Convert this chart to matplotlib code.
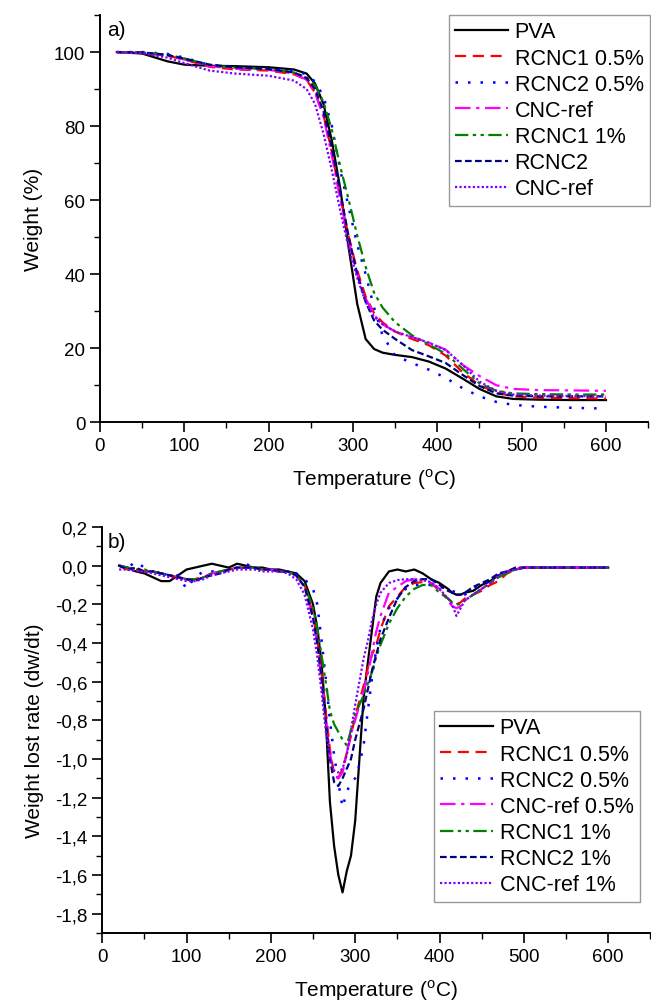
import numpy as np
import matplotlib
matplotlib.use("Agg")
from matplotlib import pyplot as plt
from matplotlib.ticker import MultipleLocator, FuncFormatter

plt.rcParams['font.family'] = ['Liberation Sans', 'DejaVu Sans']

# ---- panel a) TGA weight curves ----
temp_a = [20, 50, 80, 100, 130, 160, 200, 230, 245, 255, 265, 275, 285, 295, 305,
          315, 325, 335, 350, 370, 390, 410, 430, 450, 470, 490, 520, 560, 600]

w_pva = [100, 99.6, 97.5, 96.6, 96.3, 96.2, 95.9, 95.3, 94.2, 91.5, 86, 76, 63, 47, 32,
         22.5, 19.8, 18.8, 18.2, 17.6, 16.4, 14.5, 11.8, 9.0, 7.0, 6.3, 6.1, 6.0, 6.0]
w_rcnc1_05 = [100, 99.8, 99, 98, 96, 95.3, 95, 94, 92.5, 89, 83, 73, 61, 50, 41,
              34, 29.5, 27, 24.5, 22.5, 20.8, 18, 13.5, 10, 8, 7, 6.6, 6.5, 6.4]
w_rcnc2_05 = [100, 100, 99.5, 98.5, 96.5, 96, 95.5, 95, 94, 92, 88, 80, 68, 58, 48,
              40, 31, 23.5, 18, 16, 14.2, 12, 9.2, 7, 5.5, 4.7, 4.2, 3.9, 3.7]
w_cnc_05 = [100, 99.8, 99, 98, 96.2, 95.5, 95.2, 94.2, 92.5, 89, 82.5, 72, 60, 49, 40,
            33.5, 29, 26.5, 24.5, 23, 21.5, 19.6, 15.5, 12.5, 10, 9, 8.7, 8.6, 8.5]
w_rcnc1_1 = [100, 99.9, 99.3, 98.3, 96.5, 95.8, 95.4, 94.5, 93.2, 91, 86.5, 79, 69, 60, 50.5,
             42, 35, 31, 27, 23.5, 21, 18.5, 14.5, 10.5, 8.5, 7.8, 7.6, 7.5, 7.5]
w_rcnc2_1 = [100, 99.9, 99.2, 98.2, 96.6, 95.9, 95.4, 94.5, 93, 90, 84, 74, 62, 50, 40,
             32.5, 27.5, 25, 22.5, 19.5, 17.8, 16, 12.8, 9.8, 7.8, 7.2, 7, 7, 7]
w_cnc_1 = [100, 99.7, 98.5, 97, 95, 94.2, 93.6, 92.3, 90, 86, 78, 68, 57, 47, 39,
           32.5, 28.5, 26.5, 24.5, 23, 21.5, 19.5, 15.5, 11, 8.5, 7.5, 7.2, 7.1, 7]

labels_a = ["PVA", "RCNC1 0.5%", "RCNC2 0.5%", "CNC-ref", "RCNC1 1%", "RCNC2", "CNC-ref"]

# ---- panel b) DTG curves ----
temp_b = [20, 30, 40, 50, 60, 70, 80, 90, 100, 110, 120, 130, 140, 150, 160, 170, 180, 190,
          200, 210, 220, 230, 240, 250, 255, 260, 265, 270, 275, 280, 285, 290, 295, 300,
          305, 310, 315, 320, 325, 330, 340, 350, 360, 370, 380, 390, 400, 410, 415, 420,
          425, 430, 440, 450, 460, 470, 480, 490, 500, 520, 540, 560, 580, 600]

d_pva = [0.0, -0.01, -0.03, -0.04, -0.06, -0.08, -0.08, -0.05, -0.02, -0.01, 0.0, 0.01, 0.0, -0.01,
         0.01, 0.0, -0.01, -0.01, -0.02, -0.02, -0.03, -0.04, -0.08, -0.2, -0.32, -0.5, -0.78,
         -1.22, -1.45, -1.6, -1.69, -1.58, -1.5, -1.32, -1.0, -0.68, -0.5, -0.33, -0.16, -0.09,
         -0.03, -0.02, -0.03, -0.02, -0.04, -0.07, -0.09, -0.12, -0.14, -0.15, -0.15, -0.14,
         -0.13, -0.1, -0.08, -0.05, -0.03, -0.02, -0.01, -0.01, -0.01, -0.01, -0.01, -0.01]
d_rcnc1_05 = [0.0, -0.02, -0.02, -0.03, -0.03, -0.04, -0.05, -0.06, -0.07, -0.07, -0.06, -0.04,
              -0.03, -0.02, -0.01, -0.01, -0.01, -0.02, -0.02, -0.03, -0.03, -0.05, -0.1, -0.25,
              -0.38, -0.55, -0.75, -0.95, -1.08, -1.1, -1.05, -0.97, -0.88, -0.78, -0.7, -0.62,
              -0.53, -0.46, -0.41, -0.33, -0.21, -0.16, -0.11, -0.09, -0.085, -0.09, -0.13,
              -0.17, -0.19, -0.2, -0.19, -0.17, -0.15, -0.13, -0.1, -0.08, -0.04, -0.02, -0.01,
              -0.01, -0.01, -0.01, -0.01, -0.01]
d_rcnc2_05 = [0.0, -0.01, 0.02, -0.01, -0.03, -0.04, -0.05, -0.05, -0.12, -0.06, -0.03, -0.03,
              -0.03, -0.03, -0.01, 0.01, -0.01, -0.02, -0.02, -0.03, -0.03, -0.04, -0.07, -0.12,
              -0.2, -0.38, -0.58, -0.8, -0.98, -1.12, -1.25, -1.17, -1.12, -1.1, -1.03, -0.93,
              -0.75, -0.58, -0.43, -0.32, -0.22, -0.17, -0.12, -0.1, -0.1, -0.1, -0.11, -0.12,
              -0.13, -0.14, -0.15, -0.15, -0.12, -0.1, -0.08, -0.05, -0.03, -0.02, -0.01,
              -0.01, -0.01, -0.01, -0.01, -0.01]
d_cnc_05 = [0.0, -0.01, -0.02, -0.03, -0.03, -0.04, -0.05, -0.06, -0.07, -0.08, -0.06, -0.04,
            -0.03, -0.02, -0.01, -0.01, -0.01, -0.02, -0.02, -0.03, -0.03, -0.05, -0.11, -0.27,
            -0.4, -0.58, -0.78, -0.97, -1.08, -1.1, -1.07, -0.97, -0.87, -0.8, -0.72, -0.65,
            -0.56, -0.45, -0.34, -0.26, -0.14, -0.11, -0.08, -0.07, -0.07, -0.09, -0.12, -0.18,
            -0.21, -0.22, -0.21, -0.18, -0.15, -0.12, -0.09, -0.06, -0.03, -0.02, -0.01,
            -0.01, -0.01, -0.01, -0.01, -0.01]
d_rcnc1_1 = [0.0, -0.01, -0.02, -0.02, -0.03, -0.04, -0.05, -0.06, -0.07, -0.07, -0.06, -0.04,
             -0.03, -0.02, -0.01, -0.01, -0.01, -0.02, -0.02, -0.03, -0.03, -0.05, -0.1, -0.22,
             -0.32, -0.46, -0.6, -0.75, -0.82, -0.86, -0.9, -0.93, -0.85, -0.77, -0.72, -0.67,
             -0.61, -0.55, -0.47, -0.41, -0.3, -0.22, -0.16, -0.12, -0.1, -0.1, -0.14, -0.17,
             -0.19, -0.2, -0.2, -0.18, -0.15, -0.12, -0.09, -0.06, -0.04, -0.02, -0.01,
             -0.01, -0.01, -0.01, -0.01, -0.01]
d_rcnc2_1 = [0.0, -0.02, -0.01, -0.03, -0.03, -0.04, -0.05, -0.06, -0.07, -0.08, -0.06, -0.05,
             -0.04, -0.02, -0.01, -0.01, -0.01, -0.02, -0.02, -0.03, -0.03, -0.05, -0.11, -0.27,
             -0.4, -0.58, -0.8, -1.0, -1.12, -1.14, -1.1, -1.05, -1.0, -0.9, -0.82, -0.74,
             -0.64, -0.54, -0.46, -0.38, -0.27, -0.17, -0.11, -0.08, -0.07, -0.07, -0.1, -0.13,
             -0.14, -0.15, -0.15, -0.14, -0.11, -0.09, -0.07, -0.04, -0.03, -0.01, -0.01,
             -0.01, -0.01, -0.01, -0.01, -0.01]
d_cnc_1 = [-0.02, -0.02, -0.03, -0.03, -0.04, -0.05, -0.06, -0.07, -0.08, -0.08, -0.07, -0.05,
           -0.04, -0.03, -0.02, -0.02, -0.02, -0.03, -0.03, -0.03, -0.04, -0.07, -0.15, -0.33,
           -0.47, -0.65, -0.85, -1.0, -1.06, -1.07, -1.05, -0.98, -0.85, -0.72, -0.6, -0.48,
           -0.39, -0.28, -0.2, -0.14, -0.09, -0.075, -0.07, -0.07, -0.075, -0.085, -0.12, -0.17,
           -0.2, -0.26, -0.22, -0.18, -0.15, -0.12, -0.09, -0.05, -0.03, -0.02, -0.01,
           -0.01, -0.01, -0.01, -0.01, -0.01]

labels_b = ["PVA", "RCNC1 0.5%", "RCNC2 0.5%", "CNC-ref 0.5%", "RCNC1 1%", "RCNC2 1%", "CNC-ref 1%"]

# line styles shared by both panels
STYLES = [
    dict(color="#000000", linestyle="-", linewidth=1.6),
    dict(color="#ff0000", linestyle=(0, (5, 3)), linewidth=1.6),
    dict(color="#0000ff", linestyle=(0, (1, 4)), linewidth=1.8),
    dict(color="#ff00ff", linestyle=(0, (7, 2.5, 1.5, 2.5)), linewidth=1.6),
    dict(color="#008000", linestyle=(0, (6, 2, 1.5, 2, 1.5, 2)), linewidth=1.6),
    dict(color="#000080", linestyle=(0, (3, 1.5)), linewidth=1.6),
    dict(color="#8000ff", linestyle=(0, (1, 1)), linewidth=1.6),
]


def style_axes(ax):
    for side in ("top", "right"):
        ax.spines[side].set_visible(False)
    for side in ("left", "bottom"):
        ax.spines[side].set_linewidth(1.4)
    ax.tick_params(which="major", direction="out", length=7, width=1.2, labelsize=13.5)
    ax.tick_params(which="minor", direction="out", length=4, width=1.0)


def comma(v, pos):
    return f"{v:.1f}".replace(".", ",")


def add_legend(ax, x, y):
    fig.legend(*ax.get_legend_handles_labels(), loc="upper left",
               bbox_to_anchor=(x / 651, 1 - y / 1003), fontsize=15.5, frameon=True,
               fancybox=False, edgecolor="#808080", handlelength=2.45, handletextpad=0.3,
               labelspacing=0.24, borderpad=0.3, borderaxespad=0)


fig = plt.figure(figsize=(6.51, 10.03), dpi=100)

# ---- a) ----
ax1 = fig.add_axes([0.1536, 0.578, 0.842, 0.406])
series_a = [w_pva, w_rcnc1_05, w_rcnc2_05, w_cnc_05, w_rcnc1_1, w_rcnc2_1, w_cnc_1]
for y, lab, st in zip(series_a, labels_a, STYLES):
    ax1.plot(temp_a, y, label=lab, **st)
ax1.set_xlim(0, 650)
ax1.set_ylim(0, 110)
ax1.xaxis.set_major_locator(MultipleLocator(100))
ax1.xaxis.set_minor_locator(MultipleLocator(50))
ax1.yaxis.set_major_locator(MultipleLocator(20))
ax1.yaxis.set_minor_locator(MultipleLocator(10))
style_axes(ax1)
ax1.set_xlabel(r"Temperature ($^\mathregular{o}$C)", fontsize=15, labelpad=9)
ax1.set_ylabel("Weight (%)", fontsize=15, labelpad=8)
fig.text(107 / 651, 1 - 31 / 1003, "a)", fontsize=15, va="center")
add_legend(ax1, 449, 16)

# ---- b) ----
ax2 = fig.add_axes([0.157, 0.0688, 0.842, 0.4048])
series_b = [d_pva, d_rcnc1_05, d_rcnc2_05, d_cnc_05, d_rcnc1_1, d_rcnc2_1, d_cnc_1]
for y, lab, st in zip(series_b, labels_b, STYLES):
    ax2.plot(temp_b, y, label=lab, **st)
ax2.set_xlim(0, 650)
ax2.set_ylim(-1.9, 0.2)
ax2.xaxis.set_major_locator(MultipleLocator(100))
ax2.xaxis.set_minor_locator(MultipleLocator(50))
ax2.yaxis.set_major_locator(MultipleLocator(0.2))
ax2.yaxis.set_minor_locator(MultipleLocator(0.1))
ax2.yaxis.set_major_formatter(FuncFormatter(comma))
style_axes(ax2)
ax2.set_xlabel(r"Temperature ($^\mathregular{o}$C)", fontsize=15, labelpad=9)
ax2.set_ylabel("Weight lost rate (dw/dt)", fontsize=15, labelpad=8)
fig.text(108 / 651, 1 - 543 / 1003, "b)", fontsize=15, va="center")
add_legend(ax2, 434, 712)

fig.savefig("out.png", dpi=100)
